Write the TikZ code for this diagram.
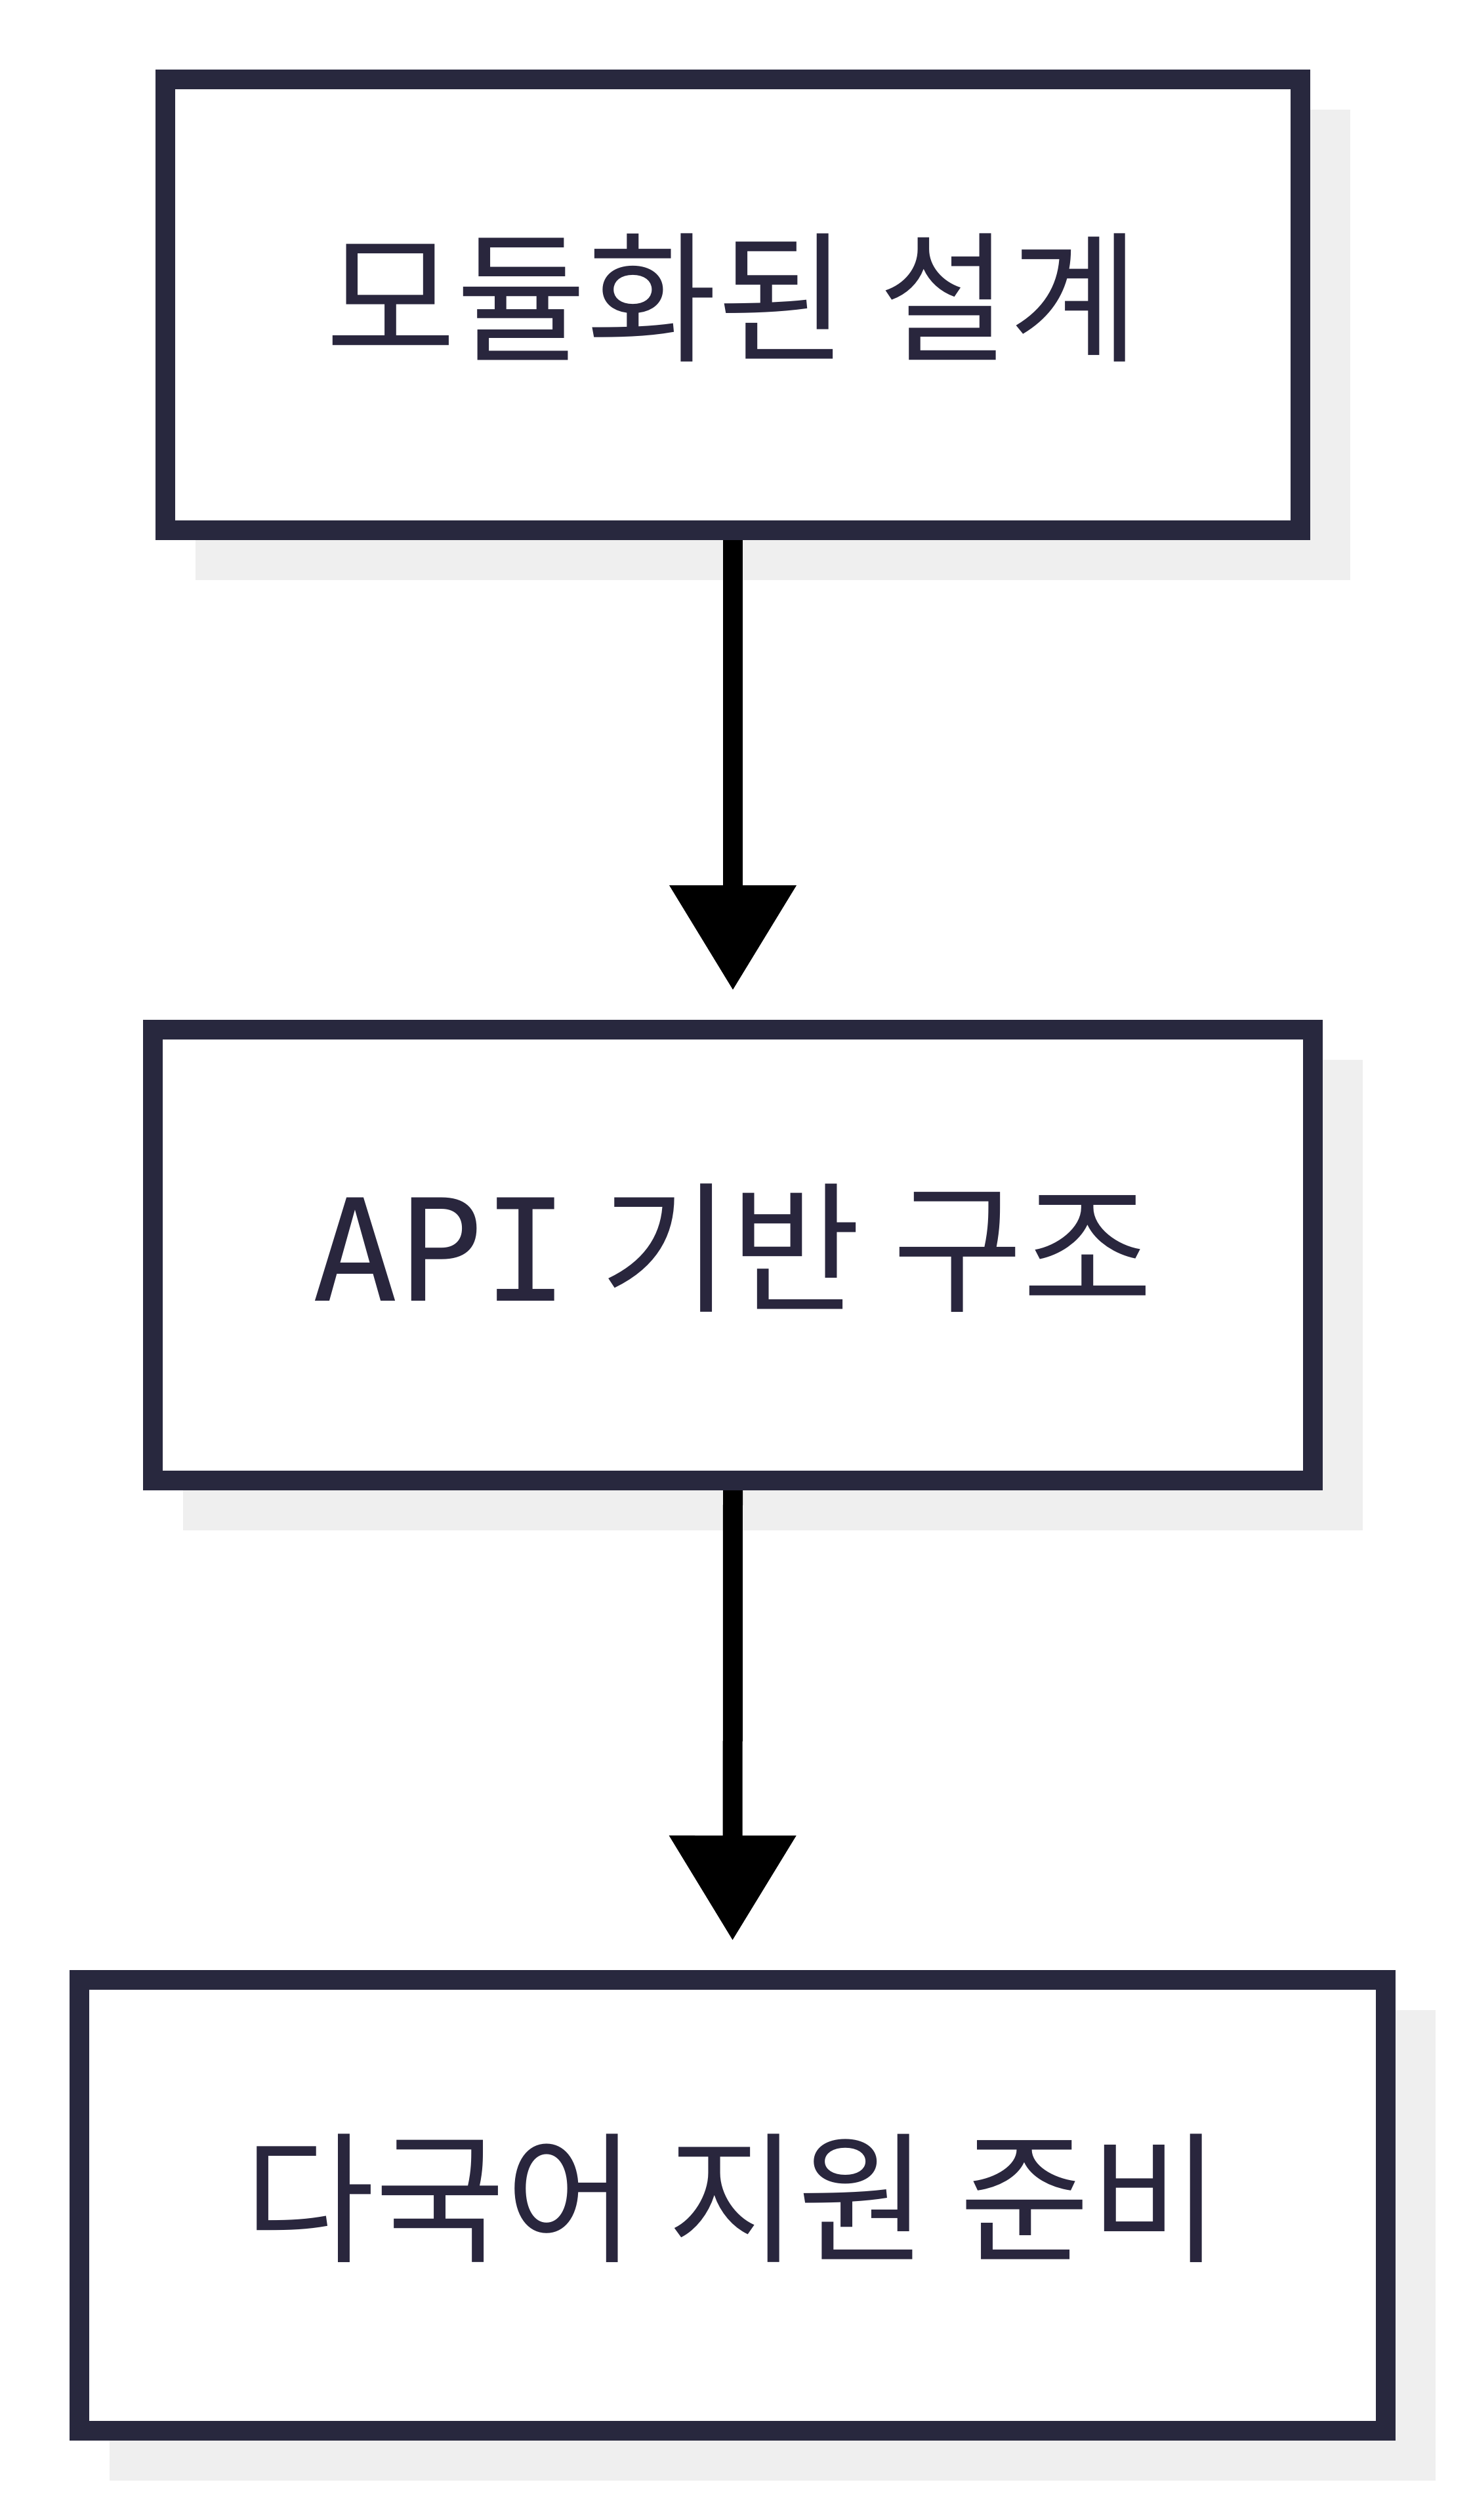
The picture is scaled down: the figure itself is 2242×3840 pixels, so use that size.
\documentclass[tikz,border=0pt]{standalone}
\usepackage{fontspec}
\setmainfont{Noto Sans CJK KR}
\newfontfamily\apimono{DejaVu Sans Mono}
\usetikzlibrary{arrows.meta,backgrounds,calc}
\definecolor{boxline}{HTML}{28283E}
\definecolor{txt}{HTML}{29263D}
\definecolor{shadowc}{HTML}{EFEFEF}
\newcommand{\lift}[1]{\raisebox{11pt}[\height][\depth]{#1}}
\tikzset{
  box/.style={draw=boxline, line width=30pt, fill=white, minimum height=687pt,
    inner sep=0pt, font=\fontsize{216}{260}\selectfont, text=txt},
  conn/.style={draw=black, line width=30pt,
    -{Triangle[width=194pt,length=159pt,line width=0pt]}, shorten >=46pt}
}
\begin{document}
\begin{tikzpicture}[x=1pt,y=-1pt]
\useasboundingbox (0,0) rectangle (2242,3840);
\node[box, minimum width=1730pt] (b1) at (1117,464.5) {\lift{모듈화된 설계}};
\node[box, minimum width=1768pt] (b2) at (1117,1912.5) {\lift{{\apimono API} 기반 구조}};
\node[box, minimum width=1991pt] (b3) at (1116.5,3360.5) {\lift{다국어 지원 준비}};
\begin{scope}[on background layer]
  \foreach \b in {b1,b2,b3}
    \fill[shadowc] ($(\b.north west)+(61,61)$) rectangle ($(\b.south east)+(61,61)$);
\end{scope}
\draw[conn] (b1.south) -- (b2.north);
\draw[conn] (b2.south) -- (b3.north);
\end{tikzpicture}
\end{document}
